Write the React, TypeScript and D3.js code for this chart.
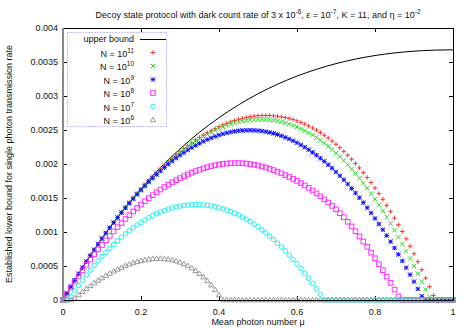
import * as d3 from 'd3'

const WIDTH = 469
const HEIGHT = 328
const PLOT = { left: 63, right: 453, top: 28, bottom: 300 }
const FONT = '"Liberation Sans", Arial, Helvetica, sans-serif'

// rates below in units of 1e-4
const UNIT = 1e-4

const X_TICKS = [0, 0.2, 0.4, 0.6, 0.8, 1]
const X_TICK_LABELS = ['0', '0.2', '0.4', '0.6', '0.8', '1']
const Y_TICKS = [0, 0.0005, 0.001, 0.0015, 0.002, 0.0025, 0.003, 0.0035, 0.004]
const Y_TICK_LABELS = ['0', '0.0005', '0.001', '0.0015', '0.002', '0.0025', '0.003', '0.0035', '0.004']

// mean photon number grid of the point series (0 .. 1 in steps of 0.01)
const MU = d3.range(101).map((i) => i / 100)

const UPPER_MU = [0, 0.05, 0.1, 0.15, 0.2, 0.25, 0.3, 0.35, 0.4, 0.45, 0.5, 0.55, 0.6, 0.65, 0.7, 0.75, 0.8, 0.85, 0.9, 0.95, 1]
const UPPER_BOUND = [0, 4.76, 9.05, 12.91, 16.37, 19.47, 22.22, 24.66, 26.81, 28.69, 30.33, 31.73, 32.93, 33.93, 34.76, 35.43, 35.95, 36.33, 36.59, 36.74, 36.79]

const N11 = [
  0, 0.99, 1.96, 2.91, 3.84, 4.76, 5.65, 6.53, 7.38, 8.22,
  9.04, 9.85, 10.63, 11.4, 12.15, 12.89, 13.61, 14.31, 14.99, 15.65,
  16.3, 16.93, 17.54, 18.14, 18.72, 19.28, 19.82, 20.35, 20.86, 21.35,
  21.82, 22.27, 22.71, 23.12, 23.52, 23.9, 24.26, 24.6, 24.92, 25.21,
  25.49, 25.75, 25.99, 26.2, 26.4, 26.57, 26.72, 26.85, 26.95, 27.04,
  27.1, 27.13, 27.14, 27.13, 27.09, 27.03, 26.94, 26.83, 26.69, 26.53,
  26.34, 26.12, 25.87, 25.6, 25.3, 24.97, 24.61, 24.23, 23.82, 23.37,
  22.9, 22.39, 21.86, 21.29, 20.7, 20.08, 19.42, 18.73, 18.01, 17.26,
  16.47, 15.65, 14.81, 13.92, 13.01, 12.05, 11.07, 10.06, 9.0, 7.91,
  6.8, 5.64, 4.45, 3.22, 1.96, 0.67, 0, 0, 0, 0, 0,
]

const N10 = [
  0, 0.99, 1.96, 2.91, 3.84, 4.76, 5.65, 6.52, 7.38, 8.22,
  9.04, 9.84, 10.63, 11.39, 12.14, 12.88, 13.59, 14.29, 14.97, 15.63,
  16.28, 16.9, 17.51, 18.1, 18.67, 19.22, 19.76, 20.27, 20.77, 21.25,
  21.71, 22.15, 22.57, 22.97, 23.36, 23.72, 24.06, 24.38, 24.68, 24.96,
  25.21, 25.45, 25.66, 25.85, 26.02, 26.17, 26.29, 26.39, 26.47, 26.52,
  26.55, 26.55, 26.53, 26.49, 26.42, 26.32, 26.2, 26.05, 25.87, 25.67,
  25.44, 25.19, 24.9, 24.59, 24.26, 23.89, 23.49, 23.07, 22.62, 22.13,
  21.62, 21.08, 20.51, 19.9, 19.27, 18.61, 17.91, 17.19, 16.44, 15.65,
  14.83, 13.98, 13.11, 12.19, 11.25, 10.26, 9.25, 8.21, 7.2, 6.1,
  5.0, 3.85, 2.7, 1.55, 0.45, 0, 0, 0, 0, 0, 0,
]

const N9 = [
  0, 0.99, 1.96, 2.91, 3.84, 4.75, 5.65, 6.52, 7.37, 8.21,
  9.03, 9.83, 10.61, 11.37, 12.11, 12.83, 13.53, 14.22, 14.88, 15.53,
  16.15, 16.75, 17.34, 17.9, 18.45, 18.97, 19.47, 19.96, 20.42, 20.86,
  21.28, 21.67, 22.05, 22.4, 22.73, 23.04, 23.33, 23.59, 23.83, 24.05,
  24.25, 24.42, 24.57, 24.7, 24.8, 24.88, 24.93, 24.96, 24.97, 24.95,
  24.91, 24.84, 24.75, 24.64, 24.5, 24.33, 24.14, 23.92, 23.68, 23.42,
  23.13, 22.81, 22.47, 22.1, 21.71, 21.3, 20.85, 20.39, 19.89, 19.38,
  18.83, 18.26, 17.67, 17.05, 16.4, 15.73, 15.04, 14.32, 13.57, 12.8,
  12.0, 11.18, 10.34, 9.47, 8.58, 7.65, 6.71, 5.75, 4.75, 3.73,
  2.7, 1.63, 0.55, 0, 0, 0, 0, 0, 0, 0, 0,
]

const N8 = [
  0, 0.91, 1.81, 2.69, 3.54, 4.36, 5.17, 5.95, 6.72, 7.45,
  8.09, 8.78, 9.44, 10.09, 10.72, 11.32, 11.91, 12.47, 13.02, 13.54,
  14.04, 14.52, 14.98, 15.42, 15.84, 16.24, 16.62, 16.97, 17.31, 17.62,
  17.92, 18.2, 18.46, 18.71, 18.95, 19.16, 19.36, 19.53, 19.68, 19.81,
  19.92, 20.01, 20.07, 20.11, 20.13, 20.13, 20.11, 20.06, 19.99, 19.9,
  19.78, 19.65, 19.49, 19.3, 19.1, 18.87, 18.63, 18.37, 18.09, 17.81,
  17.52, 17.2, 16.85, 16.49, 16.1, 15.68, 15.24, 14.8, 14.33, 13.84,
  13.33, 12.77, 12.18, 11.51, 10.82, 10.11, 9.36, 8.6, 7.81, 6.98,
  6.14, 5.27, 4.38, 3.45, 2.51, 1.53, 0.52, 0, 0, 0,
  0, 0, 0, 0, 0, 0, 0, 0, 0, 0, 0,
]

const N7 = [
  0, 0, 0.51, 1.34, 2.13, 2.91, 3.66, 4.38, 5.08, 5.75,
  6.39, 7.01, 7.61, 8.17, 8.71, 9.23, 9.72, 10.18, 10.62, 11.03,
  11.41, 11.77, 12.1, 12.41, 12.69, 12.96, 13.16, 13.36, 13.54, 13.69,
  13.81, 13.9, 13.97, 14.01, 14.03, 14.02, 13.99, 13.92, 13.83, 13.72,
  13.58, 13.41, 13.22, 13.0, 12.76, 12.49, 12.19, 11.87, 11.52, 11.15,
  10.75, 10.32, 9.87, 9.39, 8.89, 8.36, 7.8, 7.22, 6.61, 5.98,
  5.33, 4.64, 3.93, 3.2, 2.44, 1.65, 0.83, 0, 0, 0,
  0, 0, 0, 0, 0, 0, 0, 0, 0, 0,
  0, 0, 0, 0, 0, 0, 0, 0, 0, 0,
  0, 0, 0, 0, 0, 0, 0, 0, 0, 0, 0,
]

const N6 = [
  0, 0, 0, 0.26, 0.74, 1.21, 1.65, 2.08, 2.48, 2.87,
  3.23, 3.58, 3.91, 4.22, 4.51, 4.77, 5.02, 5.24, 5.44, 5.61,
  5.76, 5.88, 5.98, 6.04, 6.08, 6.09, 6.04, 5.98, 5.87, 5.72,
  5.53, 5.3, 5.01, 4.68, 4.3, 3.86, 3.36, 2.81, 2.18, 1.49,
  0.72, 0, 0, 0, 0, 0, 0, 0, 0, 0,
  0, 0, 0, 0, 0, 0, 0, 0, 0, 0,
  0, 0, 0, 0, 0, 0, 0, 0, 0, 0,
  0, 0, 0, 0, 0, 0, 0, 0, 0, 0,
  0, 0, 0, 0, 0, 0, 0, 0, 0, 0,
  0, 0, 0, 0, 0, 0, 0, 0, 0, 0, 0,
]

const SERIES = [
  { exp: '11', shape: 'plus', color: '#ff3030', values: N11 },
  { exp: '10', shape: 'cross', color: '#20dd20', values: N10 },
  { exp: '9', shape: 'star', color: '#1010ff', values: N9 },
  { exp: '8', shape: 'square', color: '#ff30ff', values: N8 },
  { exp: '7', shape: 'circle', color: '#20f0f0', values: N7 },
  { exp: '6', shape: 'triangle', color: '#9a9a9a', values: N6 },
]

const x = d3.scaleLinear().domain([0, 1]).range([PLOT.left, PLOT.right])
const y = d3.scaleLinear().domain([0, 0.004]).range([PLOT.bottom, PLOT.top])

function Marker({ shape, cx, cy, color }) {
  const s = 2.2
  if (shape === 'plus') {
    return <path d={`M${cx - s},${cy}h${2 * s}M${cx},${cy - s}v${2 * s}`} stroke={color} fill="none" />
  }
  if (shape === 'cross') {
    return <path d={`M${cx - s},${cy - s}l${2 * s},${2 * s}M${cx - s},${cy + s}l${2 * s},${-2 * s}`} stroke={color} fill="none" />
  }
  if (shape === 'star') {
    return (
      <path
        d={`M${cx - s},${cy}h${2 * s}M${cx},${cy - s}v${2 * s}M${cx - s},${cy - s}l${2 * s},${2 * s}M${cx - s},${cy + s}l${2 * s},${-2 * s}`}
        stroke={color}
        fill="none"
      />
    )
  }
  if (shape === 'square') {
    return <rect x={cx - 2.3} y={cy - 2.3} width={4.6} height={4.6} stroke={color} fill="none" />
  }
  if (shape === 'circle') {
    return <circle cx={cx} cy={cy} r={2.3} stroke={color} fill="none" />
  }
  return <path d={`M${cx},${cy - 2.8}L${cx + 2.6},${cy + 1.8}L${cx - 2.6},${cy + 1.8}Z`} stroke={color} fill="none" />
}

export default function App() {
  const upperLine = d3
    .line<number>()
    .x((_, i) => x(UPPER_MU[i]))
    .y((d) => y(d * UNIT))
    .curve(d3.curveMonotoneX)(UPPER_BOUND)

  const legendRows = [39, 52.5, 66, 79.5, 93, 106.5, 120]

  return (
    <svg
      width={WIDTH}
      height={HEIGHT}
      style={{ position: 'absolute', left: 0, top: 0, background: '#fff', fontFamily: FONT }}
    >
      <rect width={WIDTH} height={HEIGHT} fill="#fff" />

      {/* title */}
      <text x={258} y={18} fontSize={9} textAnchor="middle" fill="#111">
        Decoy state protocol with dark count rate of 3 x 10
        <tspan dy={-4} fontSize={6.5}>-6</tspan>
        <tspan dy={4}>, ε = 10</tspan>
        <tspan dy={-4} fontSize={6.5}>-7</tspan>
        <tspan dy={4}>, K = 11, and η = 10</tspan>
        <tspan dy={-4} fontSize={6.5}>-2</tspan>
      </text>

      {/* tick marks, mirrored on all sides */}
      <g stroke="#000" strokeWidth={1}>
        {Y_TICKS.map((t) => (
          <g key={`yt${t}`}>
            <line x1={PLOT.left} x2={PLOT.left + 4} y1={Math.round(y(t)) + 0.5} y2={Math.round(y(t)) + 0.5} />
            <line x1={PLOT.right - 4} x2={PLOT.right} y1={Math.round(y(t)) + 0.5} y2={Math.round(y(t)) + 0.5} />
          </g>
        ))}
        {X_TICKS.map((t) => (
          <g key={`xt${t}`}>
            <line x1={Math.round(x(t)) + 0.5} x2={Math.round(x(t)) + 0.5} y1={PLOT.bottom} y2={PLOT.bottom - 4} />
            <line x1={Math.round(x(t)) + 0.5} x2={Math.round(x(t)) + 0.5} y1={PLOT.top} y2={PLOT.top + 4} />
          </g>
        ))}
      </g>

      {/* tick labels */}
      <g fontSize={9} fill="#111">
        {Y_TICKS.map((t, i) => (
          <text key={`yl${t}`} x={PLOT.left - 5} y={y(t) + 3} textAnchor="end">
            {Y_TICK_LABELS[i]}
          </text>
        ))}
        {X_TICKS.map((t, i) => (
          <text key={`xl${t}`} x={x(t)} y={PLOT.bottom + 15} textAnchor="middle">
            {X_TICK_LABELS[i]}
          </text>
        ))}
      </g>

      {/* axis titles */}
      <text x={258} y={325} fontSize={9} textAnchor="middle" fill="#111">
        Mean photon number μ
      </text>
      <text transform={`translate(12,164) rotate(-90)`} fontSize={9} textAnchor="middle" fill="#111">
        Established lower bound for single photon transmission rate
      </text>

      {/* upper bound */}
      <path d={upperLine} fill="none" stroke="#000" strokeWidth={1} />

      {/* lower bound point series */}
      {SERIES.map((s) => (
        <g key={s.exp} strokeWidth={1}>
          {s.values.map((v, i) => (
            <Marker key={i} shape={s.shape} cx={x(MU[i])} cy={y(v * UNIT)} color={s.color} />
          ))}
        </g>
      ))}

      {/* border */}
      <g fill="none">
        <line x1={PLOT.left} x2={PLOT.right} y1={PLOT.top + 0.5} y2={PLOT.top + 0.5} stroke="#000" />
        <line x1={PLOT.left} x2={PLOT.right} y1={PLOT.bottom + 0.5} y2={PLOT.bottom + 0.5} stroke="#000" />
        <line x1={PLOT.right + 0.5} x2={PLOT.right + 0.5} y1={PLOT.top} y2={PLOT.bottom} stroke="#000" />
        <line x1={PLOT.left} x2={PLOT.left} y1={PLOT.top} y2={PLOT.bottom + 1} stroke="#8a8a8a" strokeWidth={2} />
      </g>

      {/* legend */}
      <rect
        x={67.5}
        y={32.5}
        width={99}
        height={94}
        fill="#fff"
        stroke="#8080ff"
        strokeDasharray="1,2"
      />
      <g fontSize={9} fill="#111">
        <text x={134} y={legendRows[0] + 3} textAnchor="end">upper bound</text>
        <line x1={140} x2={166} y1={legendRows[0] + 0.5} y2={legendRows[0] + 0.5} stroke="#000" />
        {SERIES.map((s, i) => (
          <g key={`lg${s.exp}`}>
            <text x={134} y={legendRows[i + 1] + 4} textAnchor="end">
              N = 10
              <tspan dy={-4} fontSize={6.5}>{s.exp}</tspan>
            </text>
            <g strokeWidth={1}>
              <Marker shape={s.shape} cx={153} cy={legendRows[i + 1]} color={s.color} />
            </g>
          </g>
        ))}
      </g>
    </svg>
  )
}
